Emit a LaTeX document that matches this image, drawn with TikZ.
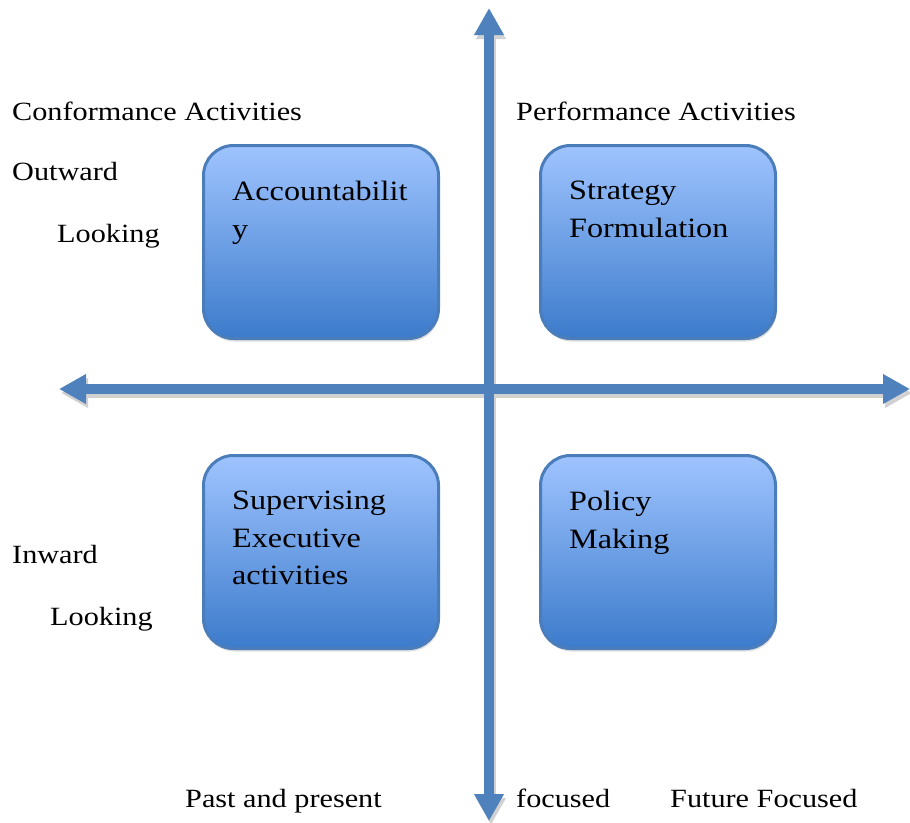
\documentclass[tikz,border=0pt]{standalone}
\usepackage{fontspec}
\setmainfont{Liberation Serif}[FakeStretch=1.15]
\usetikzlibrary{positioning,arrows.meta,shadows}

\definecolor{axisblue}{HTML}{4F81BD}
\definecolor{quadedge}{HTML}{4A7DBA}
\definecolor{quadtop}{HTML}{9FC4FF}
\definecolor{quadbottom}{HTML}{3C7BCB}

\begin{document}
\begin{tikzpicture}[x=1pt,y=-1pt]
  \tikzset{
    axis/.style={draw=axisblue,line width=9.5pt,
      {Triangle[width=28pt,length=27pt]}-{Triangle[width=28pt,length=27pt]}},
    axisshadow/.style={axis,draw=black!18},
    quad/.style={draw=quadedge,line width=3pt,rounded corners=30pt,
      top color=quadtop,bottom color=quadbottom,
      minimum width=235pt,minimum height=193pt,
      drop shadow={shadow xshift=1pt,shadow yshift=-3pt,opacity=.25}},
    quadtext/.style={align=left,inner sep=0pt,
      font=\fontsize{28}{37.5}\selectfont},
    side/.style={anchor=base west,inner sep=0pt,
      font=\fontsize{26.3}{30}\selectfont}
  }
  \useasboundingbox (0,0) rectangle (910,822);

  % axes
  \coordinate (top) at (489,8);
  \coordinate (bottom) at (489,821);
  \coordinate (west) at (59,389);
  \coordinate (east) at (910,389);
  \draw[axisshadow] ([shift={(2,4)}]west) -- ([shift={(2,4)}]east);
  \draw[axisshadow] ([shift={(2,4)}]top) -- ([shift={(2,4)}]bottom);
  \draw[axis] (west) -- (east);
  \draw[axis] (top) -- (bottom);

  % quadrants
  \node[quad] (acc) at (321,242) {};
  \node[quad] (strat) at (658,242) {};
  \node[quad] (super) at (321,552) {};
  \node[quad] (policy) at (658,552) {};
  \node[quadtext,below right=37pt and 30pt of acc.north west] {Accountabilit\\y};
  \node[quadtext,below right=37pt and 30pt of strat.north west] {Strategy\\Formulation};
  \node[quadtext,below right=37pt and 30pt of super.north west] {Supervising\\Executive\\activities};
  \node[quadtext,below right=37pt and 30pt of policy.north west] {Policy\\Making};

  % side labels
  \node[side] (conf) at (12,120) {Conformance Activities};
  \node[side] (perf) at (516,120) {Performance Activities};
  \node[side] (out) at (12,180) {Outward};
  \node[side] (outlook) at (57,242) {Looking};
  \node[side] (in) at (12,563) {Inward};
  \node[side] (inlook) at (50,625) {Looking};
  \node[side] (past) at (185,807) {Past and present};
  \node[side] (focused) at (516,807) {focused};
  \node[side] (future) at (670,807) {Future Focused};
\end{tikzpicture}
\end{document}
